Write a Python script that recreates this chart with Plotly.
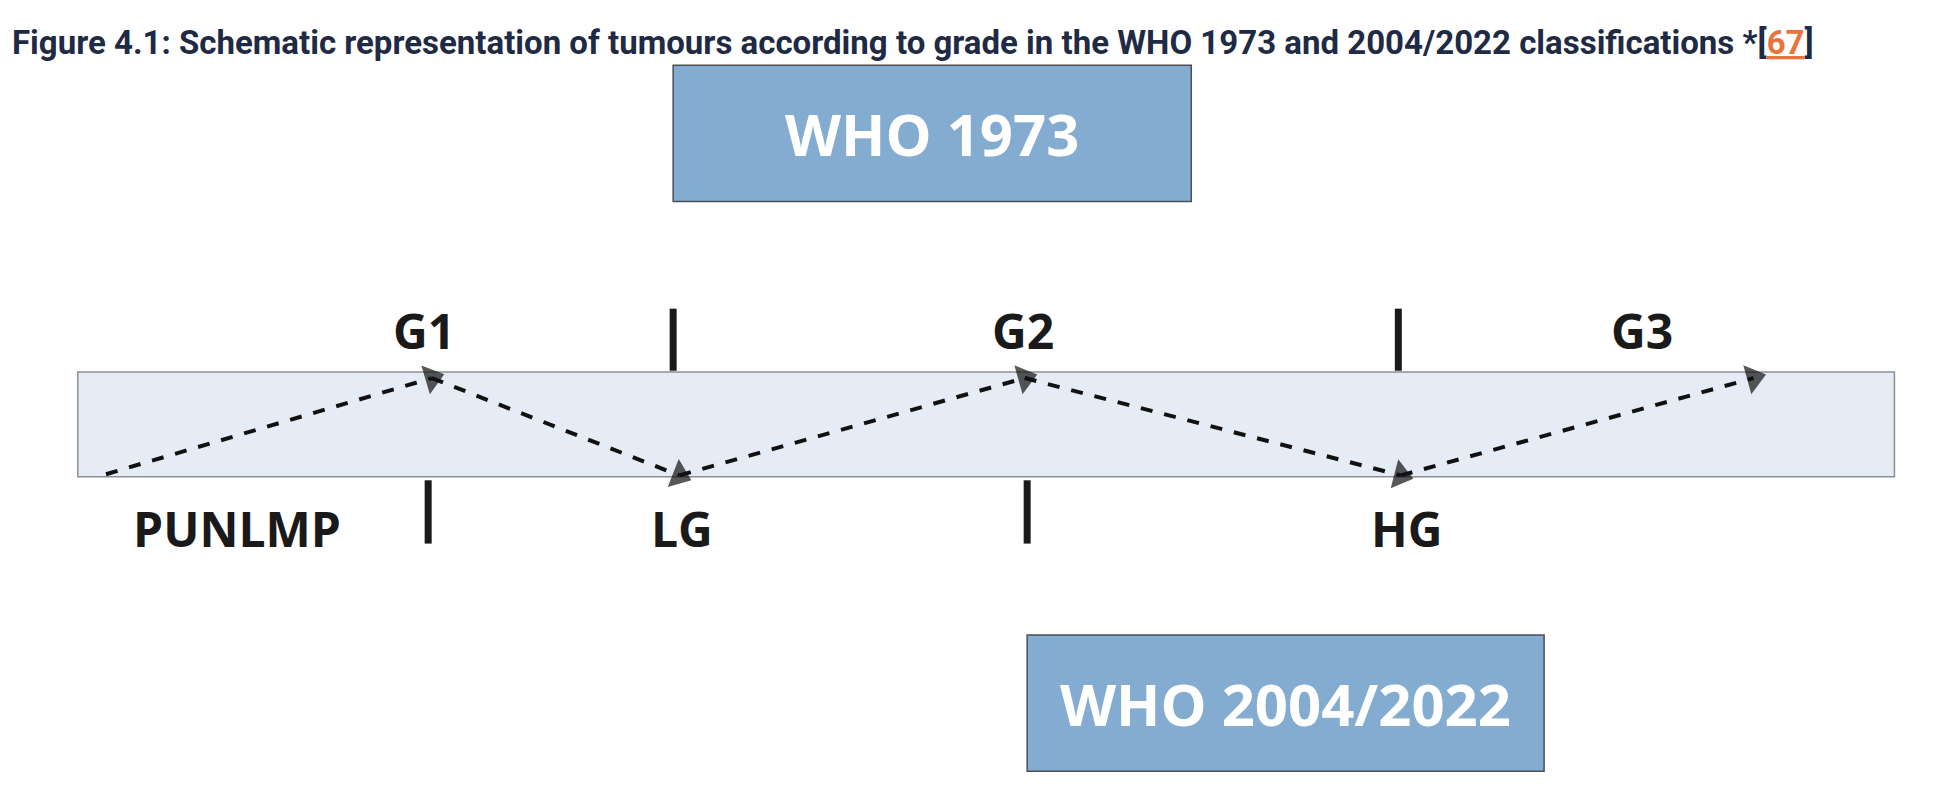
import plotly.graph_objects as go

# reference drawing units (x: 0..1587, y: 0..649, top-down)
top_labels = ["G1", "G2", "G3"]
top_label_x = [340, 829, 1334]
bottom_labels = ["PUNLMP", "LG", "HG"]
bottom_label_x = [187, 550, 1142]
top_ticks = [543, 1135]
bottom_ticks = [343, 832]
path_x = [80, 346, 548, 830, 1137, 1425]
path_y = [383, 304, 384, 304, 384, 304]

fig = go.Figure()
for i in range(len(path_x) - 1):
    fig.add_trace(go.Scatter(
        x=[path_x[i], path_x[i + 1]], y=[path_y[i], path_y[i + 1]],
        mode="lines+markers", line=dict(color="#111111", width=4, dash="dash"),
        marker=dict(symbol="triangle-up", angleref="previous", size=[0, 26],
                    color="#111111", line=dict(width=0)),
        hoverinfo="skip", showlegend=False))

shapes = [
    dict(type="rect", x0=57, x1=1540, y0=299, y1=385, fillcolor="#e6ecf5",
         line=dict(color="#8a8f96", width=1.5), layer="below"),
    dict(type="rect", x0=543, x1=966, y0=47, y1=159, fillcolor="#84acd0",
         line=dict(color="#4a4f55", width=1.5), layer="below"),
    dict(type="rect", x0=832, x1=1254, y0=515, y1=627, fillcolor="#84acd0",
         line=dict(color="#4a4f55", width=1.5), layer="below"),
]
for t in top_ticks:
    shapes.append(dict(type="line", x0=t, x1=t, y0=247, y1=298, line=dict(color="#1a1a1a", width=7)))
for t in bottom_ticks:
    shapes.append(dict(type="line", x0=t, x1=t, y0=388, y1=440, line=dict(color="#1a1a1a", width=7)))

ann = []
lab_font = dict(family="Open Sans", size=48, color="#1a1a1a")
for s, x in zip(top_labels, top_label_x):
    ann.append(dict(x=x, y=265, text="<b>%s</b>" % s, showarrow=False, font=lab_font))
for s, x in zip(bottom_labels, bottom_label_x):
    ann.append(dict(x=x, y=428, text="<b>%s</b>" % s, showarrow=False, font=lab_font))
box_font = dict(family="Open Sans", size=58, color="white")
ann.append(dict(x=754, y=103, text="<b>WHO 1973</b>", showarrow=False, font=box_font))
ann.append(dict(x=1043, y=571, text="<b>WHO 2004/2022</b>", showarrow=False, font=box_font))
ann.append(dict(x=2, y=28, xanchor="left", showarrow=False,
                font=dict(family="Roboto", size=33, color="#1f2a44"),
                text="<b>Figure 4.1: Schematic representation of tumours according to grade in the WHO 1973 and 2004/2022 classifications *[<span style='color:#e8743b'><u>67</u></span>]</b>"))

fig.update_layout(width=1944, height=790, margin=dict(l=0, r=0, t=0, b=0),
                  plot_bgcolor="white", paper_bgcolor="white",
                  shapes=shapes, annotations=ann,
                  xaxis=dict(range=[0, 1587], visible=False, fixedrange=True),
                  yaxis=dict(range=[649, 0], visible=False, fixedrange=True))
fig.write_html("out.html")
